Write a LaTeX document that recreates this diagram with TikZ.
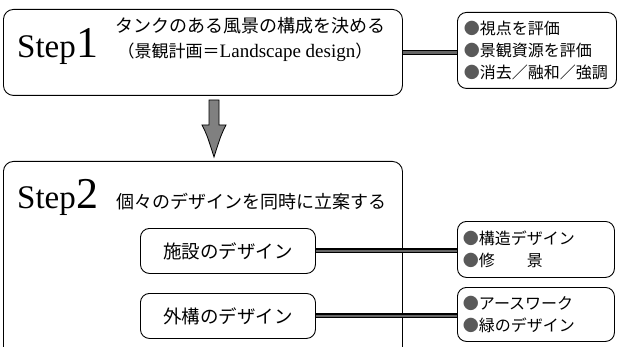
\documentclass[tikz,border=0pt]{standalone}
\usepackage{fontspec}
\setmainfont{Liberation Serif}
\newfontfamily\jp{Noto Sans CJK JP}
\usetikzlibrary{calc}
\newcommand{\bul}{\textcolor{black!65}{\jp ●}}
\tikzset{
  bigbox/.style={draw=black, line width=0.9pt, rounded corners=10pt, anchor=north west, inner sep=0pt},
  subbox/.style={draw=black, line width=0.9pt, rounded corners=9pt, anchor=north west, inner sep=0pt,
    font=\jp\fontsize{18.5}{18.5}\selectfont},
  listbox/.style={draw=black, line width=0.9pt, rounded corners=9pt, anchor=north west, inner sep=0pt,
    align=left, text width=146pt, font=\jp\fontsize{16}{22}\selectfont},
  link/.style={draw=black, line width=1.3pt, double=black!60, double distance=2.4pt},
  jtitle/.style={font=\jp\fontsize{18}{18}\selectfont, inner sep=0pt},
  steplbl/.style={anchor=base west, inner sep=0pt}
}
\begin{document}
\begin{tikzpicture}[x=1pt,y=-1pt]
\useasboundingbox (0,0) rectangle (617,347);
\clip (0,0) rectangle (617,347);
% Step 1
\node[bigbox, minimum width=399pt, minimum height=86pt] (s1) at (3,9) {};
\node[steplbl] (s1lbl) at (17,58) {\fontsize{33}{33}\selectfont Step\hspace{1pt}\fontsize{44}{44}\selectfont 1};
\node[jtitle] (s1t) at (250,26) {タンクのある風景の構成を決める};
\node[inner sep=0pt] (s1t2) at (245,52) {{\jp\fontsize{17}{17}\selectfont （景観計画＝}{\fontsize{19}{19}\selectfont Landscape design}{\jp\fontsize{17}{17}\selectfont ）}};
\node[listbox, minimum width=159pt, minimum height=76pt] (r1) at (457,12)
  {\bul 視点を評価\\ \bul 景観資源を評価\\ \bul 消去／融和／強調};
% arrow
\coordinate (atop) at (214,100);
\coordinate (atip) at (214,157);
\draw[fill=black!50, draw=black, line width=0.8pt]
  ($(atop)+(-5,0)$) -- ($(atop)+(5,0)$) -- ($(atop)+(5,25)$) -- ($(atop)+(12,25)$)
  .. controls ($(atop)+(7,35)$) .. (atip)
  .. controls ($(atop)+(-7,35)$) .. ($(atop)+(-12,25)$) -- ($(atop)+(-5,25)$) -- cycle;
% Step 2
\node[bigbox, minimum width=399pt, minimum height=210pt] (s2) at (3,161) {};
\node[steplbl] (s2lbl) at (17,208) {\fontsize{33}{33}\selectfont Step\hspace{1pt}\fontsize{44}{44}\selectfont 2};
\node[jtitle] (s2t) at (251,202) {個々のデザインを同時に立案する};
\node[subbox, minimum width=175pt, minimum height=45pt] (d1) at (140,228) {施設のデザイン};
\node[subbox, minimum width=175pt, minimum height=45pt] (d2) at (140,293) {外構のデザイン};
\node[listbox, minimum width=157pt, minimum height=56pt] (r2) at (457,221)
  {\bul 構造デザイン\\ \bul 修　　景};
\node[listbox, minimum width=157pt, minimum height=54pt] (r3) at (457,287)
  {\bul アースワーク\\ \bul 緑のデザイン};
% connectors
\draw[link] (s1.east) -- (r1.west |- s1.east);
\draw[link] (d1.east) -- (r2.west |- d1.east);
\draw[link] (d2.east) -- (r3.west |- d2.east);
\end{tikzpicture}
\end{document}
